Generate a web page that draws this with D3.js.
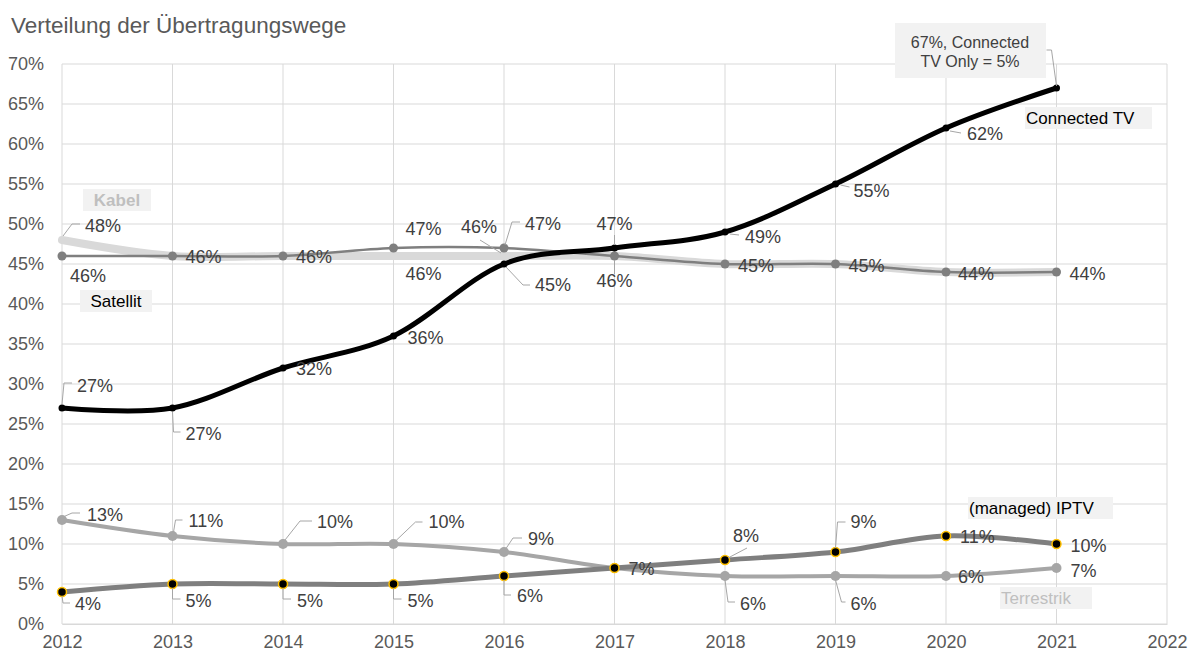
<!DOCTYPE html>
<html>
<head>
<meta charset="utf-8">
<script src="https://cdn.jsdelivr.net/npm/d3@7"></script>
<style>
  body { margin: 0; background: #fff; }
  text { font-family: Arial, "Liberation Sans", sans-serif; }
</style>
</head>
<body>
<div id="chart"></div>
<script>
const years = [2012, 2013, 2014, 2015, 2016, 2017, 2018, 2019, 2020, 2021];
const xTicks = [2012, 2013, 2014, 2015, 2016, 2017, 2018, 2019, 2020, 2021, 2022];
const yTicks = [0, 5, 10, 15, 20, 25, 30, 35, 40, 45, 50, 55, 60, 65, 70];

const kabel = [48, 46, 46, 46, 46, 46, 45, 45, 44, 44];
const satellit = [46, 46, 46, 47, 47, 46, 45, 45, 44, 44];
const terrestrik = [13, 11, 10, 10, 9, 7, 6, 6, 6, 7];
const iptv = [4, 5, 5, 5, 6, 7, 8, 9, 11, 10];
const connectedTV = [27, 27, 32, 36, 45, 47, 49, 55, 62, 67];

const titleText = "Verteilung der Übertragungswege";
const calloutLines = ["67%, Connected", "TV Only = 5%"];

// label placement per point (dx, dy from point, anchor, leader polyline)
const labelLayout = {
    kabel: [
        {dx: 23, dy: -8, l: [[1, -4], [10, -16], [18, -16]]},
        null, null,
        {dx: 12, dy: 24},
        {dx: -7, dy: -23, a: "end", l: [[-24, -16], [-3, -3]]},
        {dx: 0, dy: 31, a: "middle", l: [[0, 4], [0, 18]]},
        null, null, null, null
    ],
    satellit: [
        {dx: 8, dy: 26},
        {dx: 13, dy: 7},
        {dx: 13, dy: 7},
        {dx: 12, dy: -13},
        {dx: 21, dy: -18, l: [[1, -3], [8, -26], [16, -26]]},
        null,
        {dx: 13, dy: 8},
        {dx: 13, dy: 8},
        {dx: 12, dy: 8},
        {dx: 13, dy: 8}
    ],
    terrestrik: [
        {dx: 25, dy: 1, l: [[1, -3], [10, -7], [18, -7]]},
        {dx: 16, dy: -9, l: [[1, -4], [3, -16], [10, -16]]},
        {dx: 34, dy: -16, l: [[2, -4], [17, -23], [29, -23]]},
        {dx: 35, dy: -16, l: [[1, -2], [22, -22], [29, -22]]},
        {dx: 24, dy: -7, l: [[1, -2], [9, -14], [18, -14]]},
        null,
        {dx: 15, dy: 34, l: [[0, 4], [3, 26], [10, 26]]},
        {dx: 15, dy: 34, l: [[0, 4], [6, 26], [10, 26]]},
        {dx: 12, dy: 7},
        {dx: 14, dy: 9}
    ],
    iptv: [
        {dx: 13, dy: 18, l: [[0, 4], [1, 11], [8, 11]]},
        {dx: 13, dy: 23, l: [[0, 4], [0, 15], [8, 15]]},
        {dx: 14, dy: 23, l: [[0, 4], [0, 15], [8, 15]]},
        {dx: 14, dy: 23, l: [[0, 4], [0, 15], [8, 15]]},
        {dx: 13, dy: 26, l: [[0, 4], [0, 19], [7, 19]]},
        {dx: 14, dy: 7},
        {dx: 8, dy: -18, l: [[3, -2], [22, -12]]},
        {dx: 15, dy: -24, l: [[0, -4], [2, -30], [10, -30]]},
        {dx: 14, dy: 7},
        {dx: 14, dy: 8}
    ],
    connectedTV: [
        {dx: 15, dy: -16, l: [[0, -4], [2, -25], [10, -25]]},
        {dx: 13, dy: 32, l: [[0, 4], [1, 24], [8, 24]]},
        {dx: 13, dy: 7},
        {dx: 14, dy: 8},
        {dx: 31, dy: 27, l: [[2, 3], [19, 21], [26, 21]]},
        {dx: 0, dy: -18, a: "middle", l: [[0, -3], [0, -13]]},
        {dx: 20, dy: 11, l: [[5, 2], [14, 3]]},
        {dx: 18, dy: 13, l: [[5, 1], [14, 3]]},
        {dx: 21, dy: 12, l: [[4, 3], [15, 5]]},
        null
    ]
};

function init() {
    const width = 1189, height = 654;
    const svg = d3.select("#chart").append("svg")
        .attr("width", width)
        .attr("height", height);

    const xScale = d3.scaleLinear().domain([2012, 2022]).range([62, 1167]);
    const yScale = d3.scaleLinear().domain([0, 70]).range([624, 64]);

    // title
    svg.append("text")
        .attr("x", 11)
        .attr("y", 33)
        .style("font-size", "22.5px")
        .style("fill", "#595959")
        .text(titleText);

    // grid
    svg.append("g").selectAll("line")
        .data(yTicks)
        .join("line")
        .attr("x1", xScale(2012)).attr("x2", xScale(2022))
        .attr("y1", d => yScale(d)).attr("y2", d => yScale(d))
        .style("stroke", "#d9d9d9").style("stroke-width", 1);
    svg.append("g").selectAll("line")
        .data(xTicks)
        .join("line")
        .attr("x1", d => xScale(d)).attr("x2", d => xScale(d))
        .attr("y1", yScale(0)).attr("y2", yScale(70))
        .style("stroke", "#d9d9d9").style("stroke-width", 1);

    // axes (text only, like the Excel look)
    const yAxis = d3.axisLeft(yScale).tickValues(yTicks).tickFormat(d => d + "%").tickSize(0).tickPadding(18);
    svg.append("g")
        .attr("transform", `translate(${xScale(2012)},0)`)
        .call(yAxis)
        .call(g => g.select(".domain").remove())
        .selectAll("text")
        .style("font-size", "18px")
        .style("fill", "#595959");

    const xAxis = d3.axisBottom(xScale).tickValues(xTicks).tickFormat(d3.format("d")).tickSize(0).tickPadding(11);
    svg.append("g")
        .attr("transform", `translate(0,${yScale(0)})`)
        .call(xAxis)
        .call(g => g.select(".domain").style("stroke", "#d9d9d9"))
        .selectAll("text")
        .style("font-size", "18px")
        .style("fill", "#595959");

    const line = d3.line()
        .x((d, i) => xScale(years[i]))
        .y(d => yScale(d))
        .curve(d3.curveCardinal.tension(0));

    function drawSeries(values, color, lw, marker) {
        svg.append("path")
            .datum(values)
            .attr("d", line)
            .style("fill", "none")
            .style("stroke", color)
            .style("stroke-width", lw)
            .style("stroke-linecap", "round");
        if (marker) {
            svg.append("g").selectAll("circle")
                .data(values)
                .join("circle")
                .attr("cx", (d, i) => xScale(years[i]))
                .attr("cy", d => yScale(d))
                .attr("r", marker.r)
                .style("fill", marker.fill)
                .style("stroke", marker.stroke || "none")
                .style("stroke-width", marker.sw || 0);
        }
    }

    drawSeries(kabel, "#d9d9d9", 8, null);
    drawSeries(satellit, "#7f7f7f", 2.5, {r: 4.5, fill: "#7f7f7f"});
    drawSeries(terrestrik, "#a6a6a6", 4, {r: 5, fill: "#a6a6a6"});
    drawSeries(iptv, "#7f7f7f", 5, {r: 4.5, fill: "#000", stroke: "#ffc000", sw: 1.5});
    drawSeries(connectedTV, "#000", 5, {r: 3.5, fill: "#000"});

    // data labels
    function addLabels(values, layout) {
        const g = svg.append("g");
        values.forEach((v, i) => {
            const p = layout[i];
            if (!p) return;
            const px = xScale(years[i]), py = yScale(v);
            if (p.l) {
                g.append("polyline")
                    .attr("points", p.l.map(q => [px + q[0], py + q[1]].join(",")).join(" "))
                    .style("fill", "none")
                    .style("stroke", "#a6a6a6")
                    .style("stroke-width", 1);
            }
            g.append("text")
                .attr("x", px + p.dx)
                .attr("y", py + p.dy)
                .attr("text-anchor", p.a || "start")
                .style("font-size", "18px")
                .style("fill", "#404040")
                .text(v + "%");
        });
    }
    addLabels(kabel, labelLayout.kabel);
    addLabels(satellit, labelLayout.satellit);
    addLabels(terrestrik, labelLayout.terrestrik);
    addLabels(iptv, labelLayout.iptv);
    addLabels(connectedTV, labelLayout.connectedTV);

    // callout for the last Connected TV point
    const lastX = xScale(years[9]), lastY = yScale(connectedTV[9]);
    svg.append("polyline")
        .attr("points", `${lastX - 10},50 ${lastX - 5},50 ${lastX},${lastY - 2}`)
        .style("fill", "none").style("stroke", "#a6a6a6").style("stroke-width", 1);
    svg.append("rect")
        .attr("x", 895).attr("y", 23).attr("width", 151).attr("height", 55)
        .style("fill", "#f2f2f2");
    svg.append("g").selectAll("text")
        .data(calloutLines)
        .join("text")
        .attr("x", 970)
        .attr("y", (d, i) => 48 + i * 19)
        .attr("text-anchor", "middle")
        .style("font-size", "16px")
        .style("fill", "#404040")
        .text(d => d);

    // series name labels
    const names = [
        {t: "Kabel", x: 83, y: 189, w: 68, color: "#bfbfbf", bold: true, a: "middle"},
        {t: "Satellit", x: 80, y: 290, w: 72, color: "#000", a: "middle"},
        {t: "Connected TV", x: 1025, y: 107, w: 127, color: "#000", a: "start"},
        {t: "(managed) IPTV", x: 968, y: 497, w: 145, color: "#000", a: "start"},
        {t: "Terrestrik", x: 1000, y: 587, w: 92, color: "#bfbfbf", a: "start"}
    ];
    const ng = svg.append("g").selectAll("g")
        .data(names)
        .join("g");
    ng.append("rect")
        .attr("x", d => d.x).attr("y", d => d.y)
        .attr("width", d => d.w).attr("height", 22)
        .style("fill", "#f2f2f2");
    ng.append("text")
        .attr("x", d => d.a === "middle" ? d.x + d.w / 2 : d.x + 1)
        .attr("y", d => d.y + 17)
        .attr("text-anchor", d => d.a)
        .style("font-size", "17px")
        .style("font-weight", d => d.bold ? "bold" : "normal")
        .style("fill", d => d.color)
        .text(d => d.t);
}

window.addEventListener("load", init);
</script>
</body>
</html>
